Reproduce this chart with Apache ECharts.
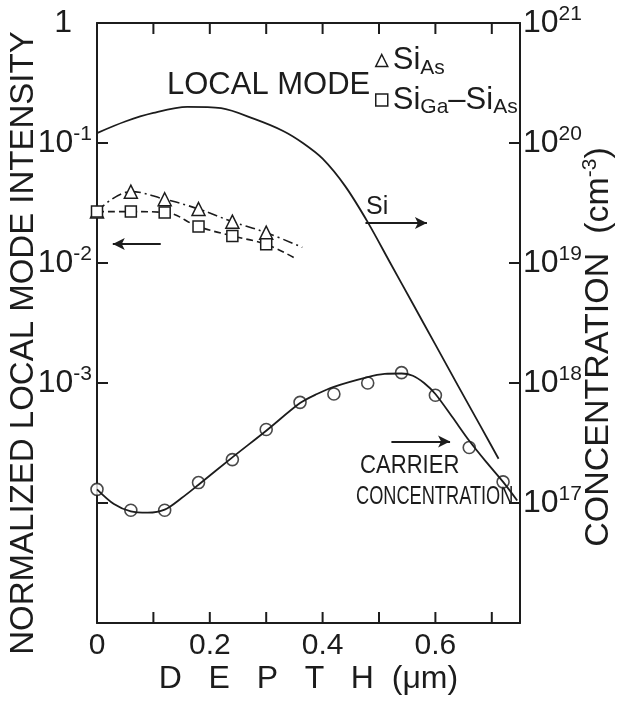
<!DOCTYPE html>
<html>
<head>
<meta charset="utf-8">
<script src="https://cdn.jsdelivr.net/npm/echarts@6/dist/echarts.min.js"></script>
<style>
  html, body { margin: 0; padding: 0; background: #fff; }
  #main { width: 624px; height: 702px; }
</style>
</head>
<body>
<div id="main"></div>
<script>
// depth in um
var markDepth = [0, 0.06, 0.12, 0.18, 0.24, 0.30];
// normalized local mode intensity (left axis)
var siAs = [0.0268, 0.0393, 0.034, 0.0282, 0.0221, 0.0179];
var siGaSiAs = [0.0268, 0.0268, 0.0264, 0.0201, 0.0168, 0.0143];
// where the fitted lines run out past the last mark
var siAsEnd = [0.364, 0.0135];
var siGaSiAsEnd = [0.349, 0.0111];

// carrier concentration, cm-3 (right axis)
var carrierDepth = [0, 0.06, 0.12, 0.18, 0.24, 0.30, 0.36, 0.42, 0.48, 0.54, 0.60, 0.66, 0.72];
var carrier = [1.3e17, 8.7e16, 8.7e16, 1.48e17, 2.3e17, 4.1e17, 6.9e17, 8.1e17, 1.0e18, 1.22e18, 7.9e17, 2.9e17, 1.5e17];
// smooth curve drawn through the carrier points
var carrierFitDepth = [0, 0.03, 0.06, 0.09, 0.12, 0.15, 0.18, 0.24, 0.30, 0.36, 0.39, 0.42, 0.48, 0.51, 0.54, 0.56, 0.58, 0.60, 0.63, 0.66, 0.69, 0.72, 0.745];
var carrierFit = [1.3e17, 9.8e16, 8.5e16, 8.3e16, 8.8e16, 1.1e17, 1.42e17, 2.4e17, 4.0e17, 6.8e17, 8.1e17, 9.3e17, 1.12e18, 1.19e18, 1.2e18, 1.15e18, 1.0e18, 8.1e17, 5.2e17, 3.3e17, 2.2e17, 1.5e17, 1.05e17];

// Si profile, cm-3 (right axis)
var siDepth = [0, 0.05, 0.10, 0.16, 0.22, 0.28, 0.33, 0.365, 0.40, 0.44, 0.48, 0.52, 0.56, 0.60, 0.64, 0.68, 0.712];
var siConc = [1.21e20, 1.51e20, 1.78e20, 2.0e20, 1.95e20, 1.58e20, 1.26e20, 1.0e20, 7.4e19, 4.37e19, 2.19e19, 1.0e19, 4.57e18, 2.09e18, 9.5e17, 4.37e17, 2.34e17];

// tick positions (inward ticks on all four sides)
var xTicks = [0.1, 0.2, 0.3, 0.4, 0.5, 0.6, 0.7];
var yTicks = [1e-1, 1e-2, 1e-3, 1e-4];

// arrows: [x1, y1, x2, y2]
var leftArrow = [0.113, 0.0144, 0.028, 0.0144];
var siArrow = [0.476, 2.15e19, 0.585, 2.15e19];
var carrierArrow = [0.522, 3.25e17, 0.626, 3.25e17];

var FONT = "'Liberation Sans', Arial, sans-serif";
var INK = '#1c1c1c';
var TICK = 11;

function pairs(xs, ys) {
  return xs.map(function (x, i) { return [x, ys[i]]; });
}

function arrowLine(a) {
  return [{ coord: [a[0], a[1]] }, { coord: [a[2], a[3]] }];
}

function axisLine() {
  return { show: true, onZero: false, lineStyle: { color: INK, width: 2 } };
}

function tickSeg(x1, y1, x2, y2) {
  return { type: 'line', shape: { x1: x1, y1: y1, x2: x2, y2: y2 }, style: { stroke: INK, lineWidth: 2 } };
}

var chart = echarts.init(document.getElementById('main'), null, { renderer: 'canvas' });

var supRich = {
  n: { fontFamily: FONT, fontSize: 32, color: INK, lineHeight: 38 },
  s: { fontFamily: FONT, fontSize: 21, color: INK, verticalAlign: 'top' },
  p: { width: 20 }
};

var option = {
  backgroundColor: '#fff',
  animation: false,
  textStyle: { fontFamily: FONT, color: INK },
  grid: { left: 97, right: 104, top: 23, bottom: 79, containLabel: false, outerBoundsMode: 'none' },
  legend: {
    left: 370, top: 40, orient: 'vertical', itemGap: 6,
    itemWidth: 12, itemHeight: 12,
    selectedMode: false,
    data: [{ name: 'SiAs', icon: 'triangle' }, { name: 'SiGa-SiAs', icon: 'rect' }],
    itemStyle: { color: '#fff', borderColor: INK, borderWidth: 1.5 },
    lineStyle: { width: 0 },
    formatter: function (name) {
      if (name === 'SiAs') return '{b|Si}{u|As}';
      return '{b|Si}{u|Ga}{b|–Si}{u|As}';
    },
    textStyle: {
      rich: {
        b: { fontFamily: FONT, fontSize: 31, color: INK, lineHeight: 36 },
        u: { fontFamily: FONT, fontSize: 21, color: INK, verticalAlign: 'bottom' }
      }
    }
  },
  xAxis: [{
    type: 'value', min: 0, max: 0.75, interval: 0.1,
    name: 'D   E   P   T   H  (μm)', nameLocation: 'middle', nameGap: 40, nameMoveOverlap: false,
    nameTextStyle: { fontFamily: FONT, fontSize: 32, color: INK },
    axisLine: axisLine(),
    axisTick: { show: false },
    splitLine: { show: false },
    axisLabel: {
      showMaxLabel: false, fontFamily: FONT, fontSize: 30, color: INK, margin: 8,
      formatter: function (v) {
        var r = Math.round(v * 10);
        if (r % 2 !== 0) return '';
        return r === 0 ? '0' : (r / 10).toFixed(1);
      }
    }
  }, {
    type: 'value', min: 0, max: 0.75, interval: 0.1, position: 'top',
    axisLine: axisLine(),
    axisTick: { show: false },
    axisLabel: { show: false },
    splitLine: { show: false }
  }],
  yAxis: [{
    type: 'log', logBase: 10, min: 1e-5, max: 1,
    name: 'NORMALIZED LOCAL MODE INTENSITY', nameLocation: 'middle', nameGap: 57, nameRotate: 90,
    nameMoveOverlap: false,
    nameTextStyle: { fontFamily: FONT, fontSize: 33, color: INK, padding: [0, 40, 0, 0] },
    axisLine: axisLine(),
    axisTick: { show: false },
    splitLine: { show: false },
    axisLabel: {
      margin: 5,
      formatter: function (v) {
        var e = Math.round(Math.log10(v));
        if (e === 0) return '{n|1}{p|}';
        if (e >= -3) return '{n|10}{s|' + e + '}';
        return '';
      },
      rich: supRich
    }
  }, {
    type: 'log', logBase: 10, min: 1e16, max: 1e21, position: 'right',
    name: '{t|CONCENTRATION  (cm}{s|-3}{t|)}', nameLocation: 'middle', nameGap: 60, nameRotate: 90,
    nameMoveOverlap: false,
    nameTextStyle: {
      padding: [0, 48, 0, 0],
      rich: {
        t: { fontFamily: FONT, fontSize: 34, color: INK, lineHeight: 38 },
        s: { fontFamily: FONT, fontSize: 21, color: INK, verticalAlign: 'top' }
      }
    },
    axisLine: axisLine(),
    axisTick: { show: false },
    splitLine: { show: false },
    axisLabel: {
      margin: 3,
      formatter: function (v) {
        var e = Math.round(Math.log10(v));
        return e >= 17 ? '{n|10}{s|' + e + '}' : '';
      },
      rich: supRich
    }
  }],
  series: [{
    name: 'Si', type: 'line', yAxisIndex: 1, smooth: 0.3, showSymbol: false, silent: true,
    data: pairs(siDepth, siConc),
    lineStyle: { color: INK, width: 1.8 },
    markLine: {
      silent: true, symbol: ['none', 'arrow'], symbolSize: [9, 12],
      label: { show: false },
      lineStyle: { color: INK, width: 1.8, type: 'solid' },
      data: [arrowLine(siArrow), arrowLine(carrierArrow)]
    }
  }, {
    name: 'carrier fit', type: 'line', yAxisIndex: 1, smooth: 0.3, showSymbol: false, silent: true,
    data: pairs(carrierFitDepth, carrierFit),
    lineStyle: { color: INK, width: 1.8 }
  }, {
    name: 'carrier', type: 'scatter', yAxisIndex: 1, symbol: 'circle', symbolSize: 12, silent: true,
    data: pairs(carrierDepth, carrier),
    itemStyle: { color: '#fff', borderColor: INK, borderWidth: 1.6 }
  }, {
    name: 'SiAs', type: 'line', yAxisIndex: 0, smooth: 0.4, symbol: 'triangle', symbolSize: 13,
    data: pairs(markDepth, siAs).concat([{ value: siAsEnd, symbol: 'none' }]),
    lineStyle: { color: INK, width: 1.6, type: [10, 4, 2, 4] },
    itemStyle: { color: '#fff', borderColor: INK, borderWidth: 1.5 },
    markLine: {
      silent: true, symbol: ['none', 'arrow'], symbolSize: [9, 12],
      label: { show: false },
      lineStyle: { color: INK, width: 1.8, type: 'solid' },
      data: [arrowLine(leftArrow)]
    },
    z: 3
  }, {
    name: 'SiGa-SiAs', type: 'line', yAxisIndex: 0, smooth: 0.4, symbol: 'rect', symbolSize: 11,
    data: pairs(markDepth, siGaSiAs).concat([{ value: siGaSiAsEnd, symbol: 'none' }]),
    lineStyle: { color: INK, width: 1.6, type: [7, 4] },
    itemStyle: { color: '#fff', borderColor: INK, borderWidth: 1.5 },
    z: 3
  }, {
    // x ticks, bottom and top edge
    name: 'xticks', type: 'custom', yAxisIndex: 0, silent: true, clip: false,
    data: xTicks.map(function (x) { return [x, 0.01]; }),
    renderItem: function (params, api) {
      var cs = params.coordSys;
      var px = api.coord([api.value(0), 0.01])[0];
      var bottom = cs.y + cs.height;
      return {
        type: 'group', children: [
          tickSeg(px, bottom, px, bottom - TICK),
          tickSeg(px, cs.y, px, cs.y + TICK)
        ]
      };
    }
  }, {
    // decade ticks, left and right edge
    name: 'yticks', type: 'custom', yAxisIndex: 0, silent: true, clip: false,
    data: yTicks.map(function (v) { return [0.3, v]; }),
    renderItem: function (params, api) {
      var cs = params.coordSys;
      var py = api.coord([0.3, api.value(1)])[1];
      var right = cs.x + cs.width;
      return {
        type: 'group', children: [
          tickSeg(cs.x, py, cs.x + TICK, py),
          tickSeg(right, py, right - TICK, py)
        ]
      };
    }
  }],
  graphic: [{
    type: 'text', left: 167, top: 70,
    style: { text: 'LOCAL MODE', font: '31px ' + FONT, fill: INK }
  }, {
    type: 'text', left: 366, top: 195,
    style: { text: 'Si', font: '25px ' + FONT, fill: INK }
  }, {
    type: 'text', left: 360, top: 453, scaleX: 0.85,
    style: { text: 'CARRIER', font: '26px ' + FONT, fill: INK }
  }, {
    type: 'text', left: 356, top: 484, scaleX: 0.7,
    style: { text: 'CONCENTRATION', font: '26px ' + FONT, fill: INK }
  }]
};

chart.setOption(option);
</script>
</body>
</html>
